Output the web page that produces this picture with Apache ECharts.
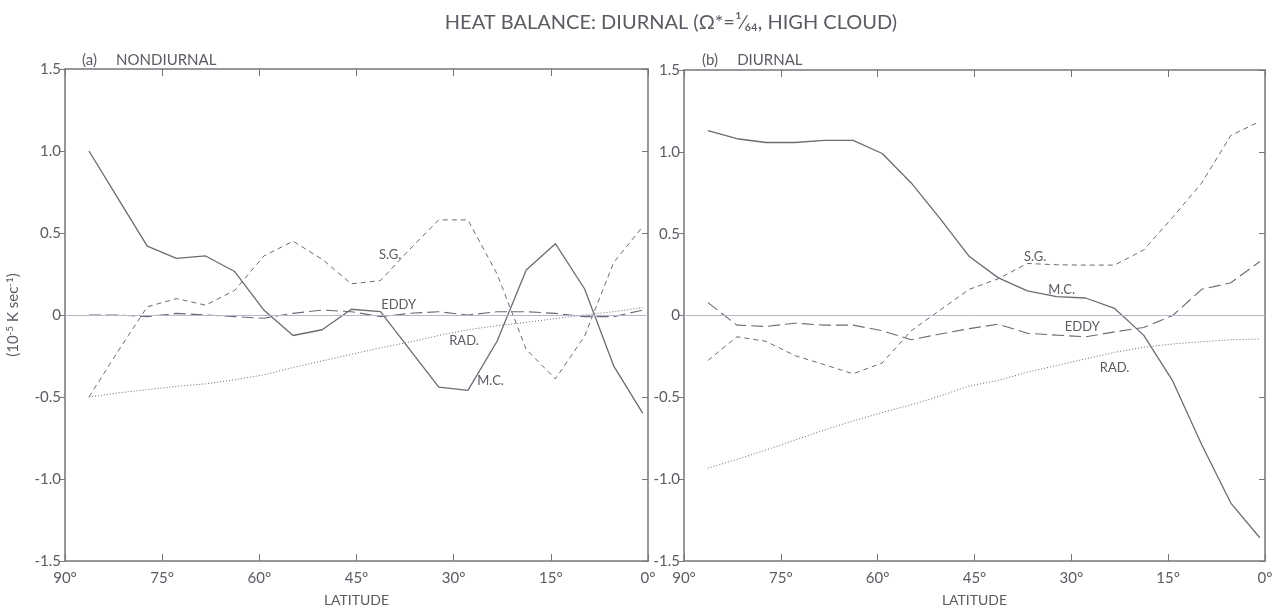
<!DOCTYPE html>
<html>
<head>
<meta charset="utf-8">
<title>Heat balance: diurnal</title>
<script src="https://cdn.jsdelivr.net/npm/echarts@6/dist/echarts.min.js"></script>
<style>
  html, body { margin: 0; padding: 0; background: #ffffff; }
  #chart { width: 1287px; height: 609px; }
</style>
</head>
<body>
<div id="chart"></div>
<script>
// Latitude of each grid row (degrees), pole to equator
const latitudes = [86.3, 81.8, 77.3, 72.8, 68.3, 63.8, 59.3, 54.8, 50.3, 45.8,
                   41.3, 36.8, 32.3, 27.8, 23.3, 18.8, 14.3, 9.8, 5.3, 0.8];

// (a) Nondiurnal, units of 10^-5 K/sec
const nondiurnalMC   = [1.00, 0.71, 0.42, 0.345, 0.36, 0.265, 0.03, -0.125, -0.09, 0.035,
                        0.02, -0.21, -0.44, -0.46, -0.16, 0.275, 0.435, 0.16, -0.31, -0.60];
const nondiurnalSG   = [-0.50, -0.22, 0.05, 0.10, 0.06, 0.15, 0.36, 0.45, 0.34, 0.19,
                        0.21, 0.40, 0.58, 0.58, 0.25, -0.21, -0.39, -0.13, 0.32, 0.54];
const nondiurnalEddy = [0.00, 0.00, -0.01, 0.01, 0.00, -0.01, -0.02, 0.01, 0.03, 0.02,
                        -0.01, 0.01, 0.02, 0.00, 0.02, 0.02, 0.01, -0.01, -0.01, 0.03];
const nondiurnalRad  = [-0.50, -0.475, -0.455, -0.435, -0.42, -0.395, -0.365, -0.32, -0.28, -0.24,
                        -0.20, -0.165, -0.125, -0.09, -0.065, -0.045, -0.022, 0.00, 0.02, 0.045];

// (b) Diurnal
const diurnalMC   = [1.13, 1.08, 1.057, 1.057, 1.07, 1.07, 0.99, 0.81, 0.59, 0.36,
                     0.23, 0.15, 0.115, 0.107, 0.043, -0.12, -0.40, -0.79, -1.146, -1.358];
const diurnalSG   = [-0.275, -0.13, -0.158, -0.245, -0.30, -0.356, -0.29, -0.093, 0.034, 0.16,
                     0.225, 0.318, 0.31, 0.308, 0.308, 0.40, 0.60, 0.81, 1.10, 1.186];
const diurnalEddy = [0.079, -0.059, -0.067, -0.047, -0.059, -0.059, -0.093, -0.148, -0.113, -0.08,
                     -0.053, -0.109, -0.12, -0.13, -0.10, -0.073, 0.00, 0.16, 0.20, 0.33];
const diurnalRad  = [-0.933, -0.879, -0.822, -0.761, -0.70, -0.644, -0.593, -0.545, -0.492, -0.43,
                     -0.397, -0.346, -0.306, -0.265, -0.225, -0.194, -0.174, -0.16, -0.148, -0.144];

// Axis ticks
const latTicks = [90, 75, 60, 45, 30, 15, 0];
const valueTicks = [-1.5, -1.0, -0.5, 0, 0.5, 1.0, 1.5];

// Curve name tags, placed at [latitude, value]
const tagsA = { 'S.G.': [39.8, 0.37], 'EDDY': [38.5, 0.06], 'RAD.': [28.4, -0.16], 'M.C.': [24.3, -0.40] };
const tagsB = { 'S.G.': [35.6, 0.36], 'M.C.': [31.5, 0.16], 'EDDY': [28.3, -0.07], 'RAD.': [23.3, -0.32] };

const FONT = 'Lato, "DejaVu Sans", sans-serif';
const INK = '#5c5a62';
const LINE = '#6c6a74';
const FRAME = '#77757e';

function pairs(vals) { return vals.map((v, i) => [latitudes[i], v]); }

function tagPoint(tags, key) {
  return {
    symbol: 'circle', symbolSize: 1, silent: true,
    itemStyle: { color: 'rgba(0,0,0,0)' },
    label: { show: true, position: 'inside', formatter: key, color: INK, fontSize: 13, fontFamily: FONT },
    data: [{ coord: tags[key], name: key }]
  };
}

function panelSeries(idx, mc, sg, eddy, rad, tags) {
  const base = { type: 'line', xAxisIndex: idx * 2, yAxisIndex: idx * 2, symbol: 'none', animation: false, z: 3 };
  return [
    Object.assign({}, base, {
      name: 'M.C.', data: pairs(mc),
      lineStyle: { color: LINE, width: 1.3, type: 'solid' },
      markPoint: tagPoint(tags, 'M.C.'),
      markLine: {
        silent: true, symbol: ['none', 'none'], animation: false,
        label: { show: false },
        lineStyle: { color: '#b2bac8', width: 1, type: 'solid' },
        data: [{ yAxis: 0 }]
      }
    }),
    Object.assign({}, base, {
      name: 'S.G.', data: pairs(sg),
      lineStyle: { color: LINE, width: 1, type: [5, 4] },
      markPoint: tagPoint(tags, 'S.G.')
    }),
    Object.assign({}, base, {
      name: 'EDDY', data: pairs(eddy),
      lineStyle: { color: LINE, width: 1.1, type: [12, 5] },
      markPoint: tagPoint(tags, 'EDDY')
    }),
    Object.assign({}, base, {
      name: 'RAD.', data: pairs(rad),
      lineStyle: { color: LINE, width: 1, type: [1, 2] },
      markPoint: tagPoint(tags, 'RAD.')
    })
  ];
}

function latAxes(gridIndex) {
  const common = {
    type: 'value', gridIndex, min: latTicks[latTicks.length - 1], max: latTicks[0], interval: 15, inverse: true,
    axisLine: { show: true, onZero: false, lineStyle: { color: FRAME, width: 1.5 } },
    axisTick: { show: true, inside: true, length: 7, lineStyle: { color: FRAME, width: 1 } },
    splitLine: { show: false }
  };
  return [
    Object.assign({}, common, {
      position: 'bottom',
      name: 'LATITUDE', nameLocation: 'middle', nameGap: 32,
      nameTextStyle: { color: INK, fontSize: 14, fontFamily: FONT },
      axisLabel: { color: INK, fontSize: 15, fontFamily: FONT, margin: 10,
                   formatter: v => (latTicks.includes(v) ? v + '°' : '') }
    }),
    Object.assign({}, common, { position: 'top', axisLabel: { show: false } })
  ];
}

function valueAxes(gridIndex, withName) {
  const common = {
    type: 'value', gridIndex, min: valueTicks[0], max: valueTicks[valueTicks.length - 1], interval: 0.5,
    axisLine: { show: true, onZero: false, lineStyle: { color: FRAME, width: 1.5 } },
    splitLine: { show: false }
  };
  const left = Object.assign({}, common, {
    position: 'left',
    axisTick: { show: true, inside: false, length: 5, lineStyle: { color: FRAME } },
    axisLabel: { color: INK, fontSize: 15, fontFamily: FONT, margin: 4,
                 formatter: v => (v === 0 ? '0' : v.toFixed(1)) }
  });
  if (withName) {
    Object.assign(left, {
      name: '(10{s|-5} K sec{s|-1})', nameLocation: 'middle', nameGap: 44,
      nameTextStyle: { color: INK, fontSize: 15, fontFamily: FONT,
                       rich: { s: { fontSize: 10, verticalAlign: 'top', color: INK, fontFamily: FONT, padding: [0, 0, 6, 0] } } }
    });
  }
  const right = Object.assign({}, common, {
    position: 'right',
    axisTick: { show: true, inside: true, length: 6, lineStyle: { color: FRAME } },
    axisLabel: { show: false }
  });
  return [left, right];
}

const chart = echarts.init(document.getElementById('chart'), null, { renderer: 'canvas' });

chart.setOption({
  backgroundColor: '#ffffff',
  animation: false,
  title: [
    { text: 'HEAT BALANCE: DIURNAL (Ω*=¹⁄₆₄, HIGH CLOUD)', left: 666, top: 8, textAlign: 'center',
      textStyle: { color: INK, fontSize: 20, fontWeight: 'normal', fontFamily: FONT } },
    { text: '(a)     NONDIURNAL', left: 77, top: 48,
      textStyle: { color: INK, fontSize: 15, fontWeight: 'normal', fontFamily: FONT } },
    { text: '(b)     DIURNAL', left: 697, top: 48,
      textStyle: { color: INK, fontSize: 15, fontWeight: 'normal', fontFamily: FONT } }
  ],
  grid: [
    { left: 65, top: 69, width: 583, height: 492, containLabel: false, outerBoundsMode: 'none' },
    { left: 684, top: 70, width: 581, height: 491, containLabel: false, outerBoundsMode: 'none' }
  ],
  xAxis: [].concat(latAxes(0), latAxes(1)),
  yAxis: [].concat(valueAxes(0, true), valueAxes(1, false)),
  series: [].concat(
    panelSeries(0, nondiurnalMC, nondiurnalSG, nondiurnalEddy, nondiurnalRad, tagsA),
    panelSeries(1, diurnalMC, diurnalSG, diurnalEddy, diurnalRad, tagsB)
  )
});
</script>
</body>
</html>
